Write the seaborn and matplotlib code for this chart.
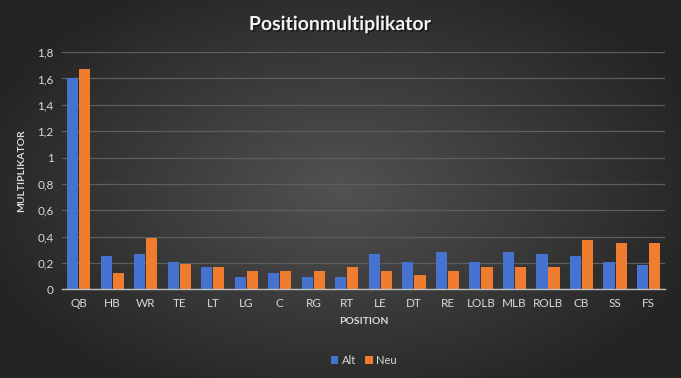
import numpy as np
import pandas as pd
import seaborn as sns
import matplotlib.pyplot as plt
import matplotlib.patheffects as pe
from matplotlib.ticker import FuncFormatter

positions = ['QB', 'HB', 'WR', 'TE', 'LT', 'LG', 'C', 'RG', 'RT', 'LE',
             'DT', 'RE', 'LOLB', 'MLB', 'ROLB', 'CB', 'SS', 'FS']
alt = [1.60, 0.25, 0.27, 0.21, 0.17, 0.09, 0.12, 0.09, 0.09, 0.27,
       0.21, 0.28, 0.21, 0.28, 0.27, 0.25, 0.21, 0.18]
neu = [1.67, 0.12, 0.39, 0.19, 0.17, 0.14, 0.14, 0.14, 0.17, 0.14,
       0.11, 0.14, 0.17, 0.17, 0.17, 0.37, 0.35, 0.35]
series_names = ['Alt', 'Neu']
yticks = [0, 0.2, 0.4, 0.6, 0.8, 1.0, 1.2, 1.4, 1.6, 1.8]

df = pd.DataFrame({
    'Position': positions * 2,
    'Wert': alt + neu,
    'Version': [series_names[0]] * len(positions) + [series_names[1]] * len(positions),
})

sns.set_theme(style='dark')
plt.rcParams['font.family'] = ['Lato', 'DejaVu Sans']

fig = plt.figure(figsize=(6.81, 3.78), dpi=100)

# dark radial background like the office chart style
bg = fig.add_axes([0, 0, 1, 1], zorder=-10)
yy, xx = np.mgrid[-1:1:200j, -1:1:360j]
r = np.sqrt(xx ** 2 + (yy * 0.9) ** 2)
shade = np.clip(0.32 - 0.16 * r, 0.14, 0.32)
bg.imshow(np.dstack([shade] * 3), aspect='auto', extent=[0, 1, 0, 1])
bg.axis('off')

ax = fig.add_axes([0.091, 0.235, 0.886, 0.627])
ax.patch.set_alpha(0)

palette = {'Alt': '#4673cf', 'Neu': '#f07c30'}
sns.barplot(data=df, x='Position', y='Wert', hue='Version', palette=palette,
            width=0.72, gap=0.08, ax=ax, legend=True, saturation=1, linewidth=0)

ax.set_ylim(0, 1.8)
ax.set_yticks(yticks)
ax.yaxis.set_major_formatter(FuncFormatter(lambda v, p: f'{v:g}'.replace('.', ',')))
ax.grid(axis='y', color='#5e5e5e', linewidth=0.9)
ax.grid(axis='x', visible=False)
ax.set_axisbelow(True)
for s in ['top', 'right', 'left']:
    ax.spines[s].set_visible(False)
ax.spines['bottom'].set_color('#bfbfbf')
ax.spines['bottom'].set_linewidth(1)
ax.tick_params(axis='both', colors='#d9d9d9', labelsize=8.5, length=0, pad=6)

ax.set_xlabel('POSITION', color='#d9d9d9', fontsize=7.5, fontweight='bold', labelpad=6)
ax.set_ylabel('MULTIPLIKATOR', color='#d9d9d9', fontsize=7.5, fontweight='bold', labelpad=8)

fig.text(0.5, 0.935, 'Positionmultiplikator', ha='center', va='center',
         color='#f2f2f2', fontsize=14, fontweight='bold',
         path_effects=[pe.withSimplePatchShadow(offset=(1, -1), shadow_rgbFace='black', alpha=0.6)])

handles, labels = ax.get_legend_handles_labels()
ax.legend(handles, labels, loc='center', bbox_to_anchor=(0.5, -0.3), ncol=2,
          frameon=False, fontsize=8, labelcolor='#d9d9d9', handlelength=0.7,
          handleheight=0.7, handletextpad=0.3, columnspacing=0.8)

fig.savefig('out.png', dpi=100)
